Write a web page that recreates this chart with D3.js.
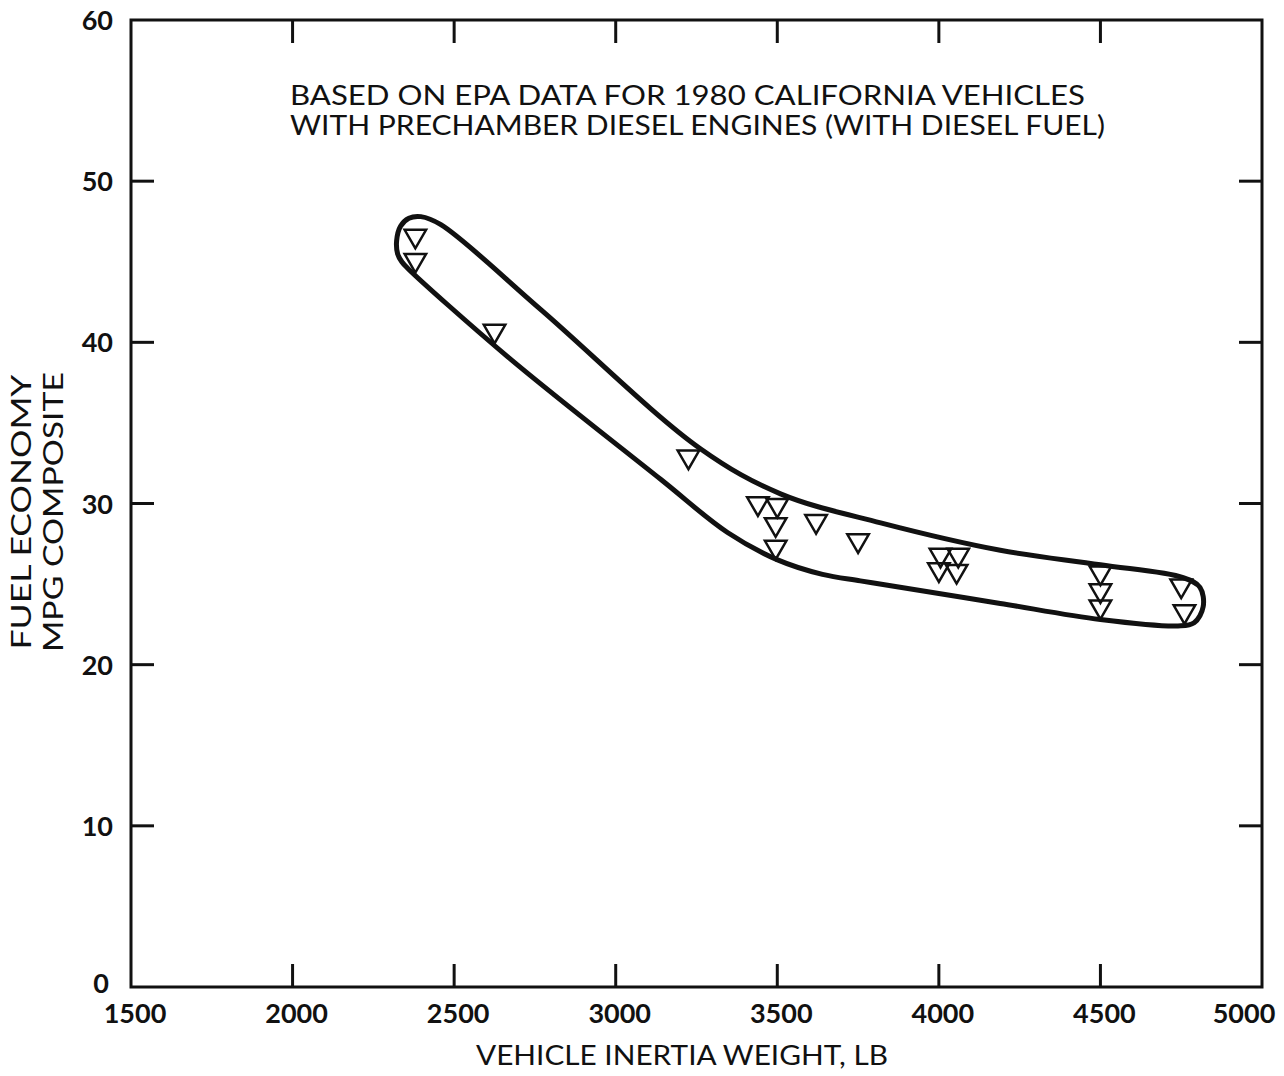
<!DOCTYPE html>
<html>
<head>
<meta charset="utf-8">
<script src="https://cdn.jsdelivr.net/npm/d3@7"></script>
<style>
  body { margin: 0; background: #fff; }
  text { font-family: Lato, "Open Sans", sans-serif; fill: #111; }
</style>
</head>
<body>
<svg id="svg"></svg>
<script>
// vehicle inertia weight (lb) and composite mpg
const weights = [2380, 2380, 2625, 3225, 3440, 3500, 3495, 3495, 3620, 3750, 4005, 4060, 4000, 4055, 4500, 4500, 4500, 4750, 4760];
const mpg = [46.6, 45.1, 40.7, 32.9, 30.0, 29.9, 28.7, 27.3, 28.9, 27.7, 26.8, 26.8, 25.9, 25.8, 25.7, 24.6, 23.6, 24.9, 23.3];

// outline of the band around the points (closed, clockwise from the left end)
const bandWeight = [2322, 2334, 2360, 2397, 2459, 2770, 3262, 3510, 3820, 4190, 4500, 4756, 4808, 4818, 4790, 4740, 4500, 4190, 3880, 3757, 3640, 3501, 3346, 3139, 2666, 2356, 2338, 2325];
const bandMpg = [46.3, 47.2, 47.7, 47.8, 47.3, 42.0, 33.4, 30.6, 28.8, 27.1, 26.2, 25.4, 24.8, 23.6, 22.6, 22.4, 22.8, 23.8, 24.8, 25.2, 25.6, 26.5, 28.2, 31.5, 39.1, 44.6, 45.0, 45.5];

const xTicks = [1500, 2000, 2500, 3000, 3500, 4000, 4500, 5000];
const yTicks = [0, 10, 20, 30, 40, 50, 60];

const titleLines = ["BASED ON EPA DATA FOR 1980 CALIFORNIA VEHICLES",
                    "WITH PRECHAMBER DIESEL ENGINES (WITH DIESEL FUEL)"];

let width = 1284;
let height = 1076;
let svg = d3.select("#svg").attr("width", width).attr("height", height);

const pLeft = 131, pRight = 1262, pTop = 20, pBottom = 987;

let x = d3.scaleLinear().domain([1500, 5000]).range([pLeft, pRight]);
let y = d3.scaleLinear().domain([0, 60]).range([pBottom, pTop]);

// frame
svg.append("rect")
    .attr("x", pLeft).attr("y", pTop)
    .attr("width", pRight - pLeft).attr("height", pBottom - pTop)
    .attr("fill", "none").attr("stroke", "#111").attr("stroke-width", 3);

// inward ticks on all four sides
const tickLen = 23;
let tk = svg.append("g").attr("stroke", "#111").attr("stroke-width", 3);
xTicks.slice(1, -1).forEach(function (t) {
    tk.append("line").attr("x1", x(t)).attr("x2", x(t)).attr("y1", pBottom).attr("y2", pBottom - tickLen);
    tk.append("line").attr("x1", x(t)).attr("x2", x(t)).attr("y1", pTop).attr("y2", pTop + tickLen);
});
yTicks.slice(1, -1).forEach(function (t) {
    tk.append("line").attr("x1", pLeft).attr("x2", pLeft + tickLen).attr("y1", y(t)).attr("y2", y(t));
    tk.append("line").attr("x1", pRight).attr("x2", pRight - tickLen).attr("y1", y(t)).attr("y2", y(t));
});

// tick labels
svg.selectAll(".xl").data(xTicks).enter().append("text")
    .attr("x", d => d === 5000 ? x(d) - 18 : x(d) + 4)
    .attr("y", pBottom + 36)
    .attr("text-anchor", "middle")
    .attr("font-size", 27)
    .attr("font-weight", 700)
    .text(d => d);

svg.selectAll(".yl").data(yTicks).enter().append("text")
    .attr("x", d => d === 0 ? pLeft - 22 : pLeft - 18)
    .attr("y", d => d === 0 ? y(d) + 6 : y(d) + 10)
    .attr("text-anchor", "end")
    .attr("font-size", 27)
    .attr("font-weight", 700)
    .text(d => d);

// axis titles
svg.append("text")
    .attr("x", 682).attr("y", 1065)
    .attr("text-anchor", "middle")
    .attr("font-size", 27)
    .attr("textLength", 412).attr("lengthAdjust", "spacingAndGlyphs")
    .text("VEHICLE INERTIA WEIGHT, LB");

let yt = svg.append("g").attr("transform", "translate(0,512) rotate(-90)");
yt.append("text").attr("x", 0).attr("y", 31)
    .attr("text-anchor", "middle").attr("font-size", 26)
    .attr("textLength", 275).attr("lengthAdjust", "spacingAndGlyphs")
    .text("FUEL ECONOMY");
yt.append("text").attr("x", 0).attr("y", 63)
    .attr("text-anchor", "middle").attr("font-size", 26)
    .attr("textLength", 280).attr("lengthAdjust", "spacingAndGlyphs")
    .text("MPG COMPOSITE");

// note
svg.selectAll(".note").data(titleLines).enter().append("text")
    .attr("x", 290)
    .attr("y", (d, i) => 105 + i * 30)
    .attr("font-size", 26)
    .attr("textLength", (d, i) => i === 0 ? 795 : 815)
    .attr("lengthAdjust", "spacingAndGlyphs")
    .text(d => d);

// band
let band = d3.line()
    .x(d => x(d[0]))
    .y(d => y(d[1]))
    .curve(d3.curveCatmullRomClosed.alpha(0.5));

svg.append("path")
    .datum(d3.zip(bandWeight, bandMpg))
    .attr("d", band)
    .attr("fill", "none")
    .attr("stroke", "#111")
    .attr("stroke-width", 5)
    .attr("stroke-linejoin", "round");

// points: open downward triangles
let tri = d3.symbol().type(d3.symbolTriangle).size(200);
svg.selectAll(".pt").data(d3.zip(weights, mpg)).enter().append("path")
    .attr("d", tri)
    .attr("transform", d => "translate(" + x(d[0]) + "," + y(d[1]) + ") rotate(180)")
    .attr("fill", "none")
    .attr("stroke", "#111")
    .attr("stroke-width", 2.5);
</script>
</body>
</html>
